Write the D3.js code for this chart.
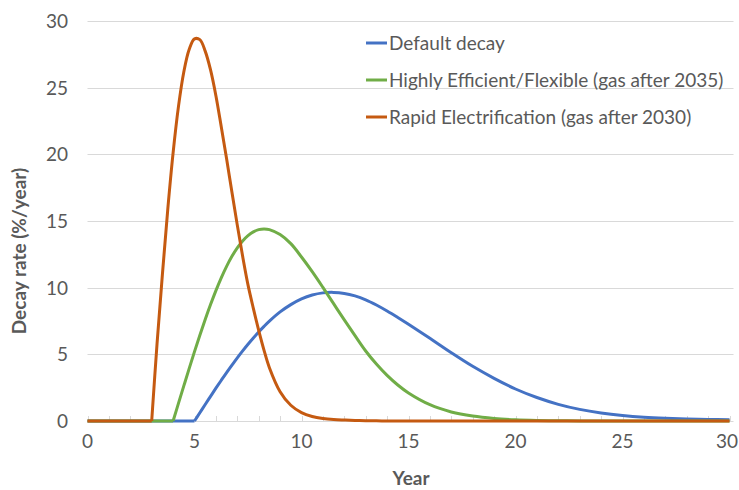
<!DOCTYPE html>
<html>
<head>
<meta charset="utf-8">
<script src="https://cdn.jsdelivr.net/npm/d3@7"></script>
<style>
  html, body { margin: 0; padding: 0; background: #fff; }
  svg text { font-family: Lato, "Open Sans", sans-serif; fill: #595959; }
</style>
</head>
<body>
<svg id="chart" width="739" height="490"></svg>
<script>
// ---- data ----
const years = [0, 1, 2, 3, 3.25, 3.5, 3.75, 4, 4.25, 4.5, 4.75, 5, 5.25, 5.5, 5.75, 6, 6.25, 6.5, 6.75, 7, 7.25, 7.5, 7.75, 8, 8.25, 8.5, 9, 9.5, 10, 10.5, 11, 11.5, 12, 12.5, 13, 13.5, 14, 14.5, 15, 16, 17, 18, 19, 20, 21, 22, 23, 24, 25, 26, 27, 28, 29, 30];

const defaultDecay = [0, 0, 0, 0, 0, 0, 0, 0, 0, 0, 0, 0, 0.62, 1.24, 1.85, 2.46, 3.05, 3.63, 4.19, 4.74, 5.26, 5.76, 6.23, 6.68, 7.1, 7.49, 8.18, 8.73, 9.16, 9.45, 9.61, 9.645, 9.57, 9.38, 9.09, 8.7, 8.25, 7.76, 7.25, 6.2, 5.12, 4.1, 3.2, 2.4, 1.76, 1.25, 0.87, 0.6, 0.41, 0.28, 0.2, 0.15, 0.12, 0.1];

const efficient = [0, 0, 0, 0, 0, 0, 0, 0, 1.32, 2.63, 3.93, 5.2, 6.43, 7.61, 8.73, 9.78, 10.74, 11.6, 12.35, 12.98, 13.5, 13.9, 14.18, 14.35, 14.4, 14.35, 13.98, 13.3, 12.3, 11.2, 10.02, 8.8, 7.58, 6.4, 5.25, 4.27, 3.42, 2.7, 2.1, 1.22, 0.68, 0.37, 0.19, 0.09, 0.04, 0.015, 0.005, 0, 0, 0, 0, 0, 0, 0];

const rapid = [0, 0, 0, 0, 5.8, 11.0, 15.86, 20.11, 23.58, 26.18, 27.86, 28.66, 28.6, 27.74, 26.33, 24.4, 22.07, 19.67, 17.15, 14.69, 12.35, 10.21, 8.45, 6.8, 5.3, 4.0, 2.2, 1.18, 0.63, 0.34, 0.19, 0.11, 0.07, 0.04, 0.02, 0.01, 0.005, 0, 0, 0, 0, 0, 0, 0, 0, 0, 0, 0, 0, 0, 0, 0, 0, 0];

const seriesNames = ["Default decay", "Highly Efficient/Flexible (gas after 2035)", "Rapid Electrification (gas after 2030)"];
const seriesColors = ["#4472C4", "#70AD47", "#C55A11"];
const seriesValues = [defaultDecay, efficient, rapid];

const xTicks = [0, 5, 10, 15, 20, 25, 30];
const yTicks = [0, 5, 10, 15, 20, 25, 30];
const minorXTicks = d3.range(0, 31, 1);

// ---- layout ----
const W = 739;
const svg = d3.select("#chart");
const x = d3.scaleLinear().domain([0, 30]).range([87.5, 729.5]);
const y = d3.scaleLinear().domain([0, 30]).range([421, 21]);
const gridColor = "#d9d9d9";
const fontSize = 19;

// gridlines
svg.append("g").selectAll("line")
  .data(yTicks.filter(d => d > 0))
  .join("line")
  .attr("x1", x(0)).attr("x2", x(30) + 4)
  .attr("y1", d => Math.round(y(d)) + 0.5).attr("y2", d => Math.round(y(d)) + 0.5)
  .attr("stroke", gridColor).attr("stroke-width", 1);

// x axis baseline + minor ticks (pointing up)
svg.append("line")
  .attr("x1", x(0)).attr("x2", x(30) + 4)
  .attr("y1", y(0) + 0.5).attr("y2", y(0) + 0.5)
  .attr("stroke", gridColor).attr("stroke-width", 1);
svg.append("g").selectAll("line")
  .data(minorXTicks)
  .join("line")
  .attr("x1", d => Math.round(x(d)) + 0.5).attr("x2", d => Math.round(x(d)) + 0.5)
  .attr("y1", y(0)).attr("y2", y(0) - 5)
  .attr("stroke", gridColor).attr("stroke-width", 1);

// tick labels
svg.append("g").selectAll("text")
  .data(yTicks).join("text")
  .attr("x", 68).attr("y", d => y(d))
  .attr("dy", "0.36em")
  .attr("text-anchor", "end")
  .attr("font-size", fontSize)
  .text(d => d);

svg.append("g").selectAll("text")
  .data(xTicks).join("text")
  .attr("x", d => x(d)).attr("y", 441)
  .attr("dy", "0.36em")
  .attr("text-anchor", "middle")
  .attr("font-size", fontSize)
  .text(d => d)
  .each(function() {
    // keep the last label inside the window
    const bb = this.getBBox();
    if (bb.x + bb.width > W - 1) {
      d3.select(this).attr("x", +d3.select(this).attr("x") - (bb.x + bb.width - (W - 1)));
    }
  });

// axis titles
svg.append("text")
  .attr("x", 411).attr("y", 478).attr("dy", "0.36em")
  .attr("text-anchor", "middle")
  .attr("font-size", fontSize).attr("font-weight", "bold")
  .text("Year");
svg.append("text")
  .attr("transform", "translate(19,251) rotate(-90)")
  .attr("dy", "0.36em")
  .attr("text-anchor", "middle")
  .attr("font-size", fontSize).attr("font-weight", "bold")
  .text("Decay rate (%/year)");

// series lines: flat part linear, rising part smooth
const smooth = d3.line().x(d => x(d[0])).y(d => y(d[1])).curve(d3.curveCatmullRom.alpha(0.5));
const flat = d3.line().x(d => x(d[0])).y(d => y(d[1]));

seriesValues.forEach((vals, i) => {
  const pts = years.map((yr, k) => [yr, vals[k]]);
  let start = 0;
  while (start < pts.length - 1 && pts[start + 1][1] === 0) start++;
  const g = svg.append("g");
  g.append("path").attr("d", flat(pts.slice(0, start + 1)))
    .attr("fill", "none").attr("stroke", seriesColors[i]).attr("stroke-width", 3);
  g.append("path").attr("d", smooth(pts.slice(start)))
    .attr("fill", "none").attr("stroke", seriesColors[i]).attr("stroke-width", 3)
    .attr("stroke-linejoin", "round");
});

// legend
const legendRows = [43, 80, 117];
const legend = svg.append("g");
seriesNames.forEach((name, i) => {
  legend.append("line")
    .attr("x1", 366).attr("x2", 387)
    .attr("y1", legendRows[i]).attr("y2", legendRows[i])
    .attr("stroke", seriesColors[i]).attr("stroke-width", 3);
  legend.append("text")
    .attr("x", 389).attr("y", legendRows[i]).attr("dy", "0.36em")
    .attr("font-size", fontSize)
    .text(name);
});
</script>
</body>
</html>
